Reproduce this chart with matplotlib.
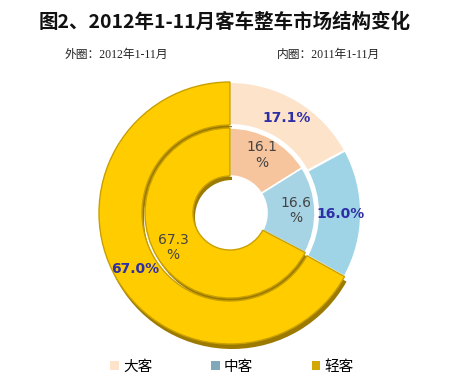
import matplotlib
matplotlib.use("Agg")
import matplotlib.pyplot as plt
from matplotlib.patches import Patch

plt.rcParams['font.family'] = ['Noto Sans CJK SC', 'DejaVu Sans']

categories = ['大客', '中客', '轻客']
outer_2012 = [17.1, 16.0, 67.0]
inner_2011 = [16.1, 16.6, 67.3]
title = '图2、2012年1-11月客车整车市场结构变化'
sub_outer = '外圈：2012年1-11月'
sub_inner = '内圈：2011年1-11月'

W, H = 450, 383
fig = plt.figure(figsize=(W / 100, H / 100), dpi=100)
fig.patch.set_facecolor('white')
ax = fig.add_axes([0, 0, 1, 1])

cx, cy = 230, H - 213
R_out, r_out = 131, 88
R_in, r_in = 85, 37

outer_colors = ['#FCE3CA', '#9ED4E6', '#FFCC00']
inner_colors = ['#F6C49D', '#A7D4E4', '#FFCC00']
dark = '#9C7A00'
explode_out = [0, 0.06, 0]

# shadows (3D depth)
sh_dx, sh_dy = 2, -5
ax.pie(outer_2012, radius=R_out, center=(cx + sh_dx, cy + sh_dy), startangle=90,
       counterclock=False, colors=['none', 'none', dark], explode=explode_out,
       wedgeprops=dict(width=R_out - r_out, linewidth=0))
ax.pie(inner_2011, radius=R_in, center=(cx + sh_dx, cy + sh_dy + 1), startangle=90,
       counterclock=False, colors=['none', 'none', dark],
       wedgeprops=dict(width=R_in - r_in, linewidth=0))

# outer ring
w_o, t_o, a_o = ax.pie(outer_2012, radius=R_out, center=(cx, cy), startangle=90,
                       counterclock=False, colors=outer_colors, explode=explode_out,
                       autopct='%1.1f%%', pctdistance=0.84,
                       wedgeprops=dict(width=R_out - r_out, linewidth=1.5, edgecolor='white'))
w_o[2].set_edgecolor('#C9A000')
w_o[2].set_linewidth(1.0)
for t, v in zip(a_o, outer_2012):
    t.set_text(f'{v:.1f}%')
    t.set_color('#2E2EA6')
    t.set_fontweight('bold')
    t.set_fontsize(10)
    t.set_fontfamily(['DejaVu Sans'])

# inner ring
w_i, t_i, a_i = ax.pie(inner_2011, radius=R_in, center=(cx, cy), startangle=90,
                       counterclock=False, colors=inner_colors,
                       autopct='%1.1f', pctdistance=0.78,
                       wedgeprops=dict(width=R_in - r_in, linewidth=1.2, edgecolor='white'))
w_i[2].set_edgecolor('#C9A000')
w_i[2].set_linewidth(1.0)
for t, v in zip(a_i, inner_2011):
    t.set_text(f'{v:.1f}\n%')
    t.set_color('#444444')
    t.set_fontsize(10)
    t.set_linespacing(1.1)
    t.set_fontfamily(['DejaVu Sans'])

ax.set_xlim(0, W)
ax.set_ylim(0, H)
ax.set_aspect('equal')
ax.axis('off')

fig.text(225 / W, 1 - 22 / H, title, ha='center', va='center',
         fontsize=14, fontweight='bold', color='#111111')
sub_font = ['Liberation Serif', 'Noto Sans CJK SC']
fig.text(65 / W, 1 - 55 / H, sub_outer, ha='left', va='center', fontsize=8.5,
         color='#222222', family=sub_font)
fig.text(277 / W, 1 - 55 / H, sub_inner, ha='left', va='center', fontsize=8.5,
         color='#222222', family=sub_font)

legend_colors = ['#FCE3CA', '#7FA8BA', '#D2A800']
handles = [Patch(facecolor=c, edgecolor='none') for c in legend_colors]
fig.legend(handles, categories, loc='center', bbox_to_anchor=(232 / W, 1 - 367 / H),
           ncol=3, frameon=False, fontsize=10.5, handlelength=0.6, handleheight=0.6,
           handletextpad=0.3, columnspacing=4.0)

fig.savefig('out.png', dpi=100, facecolor='white')
